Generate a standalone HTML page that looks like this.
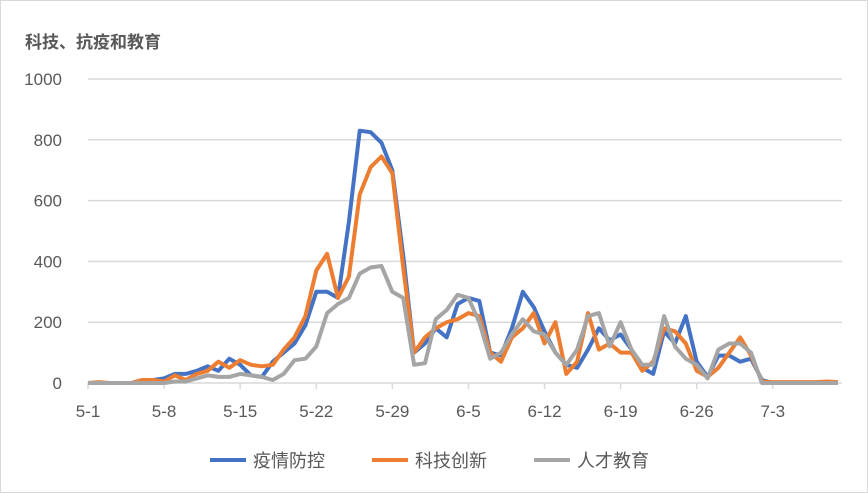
<!DOCTYPE html>
<html><head><meta charset="utf-8"><style>
body{margin:0;background:#fff;}
svg{display:block;font-family:"Liberation Sans","Noto Sans CJK SC",sans-serif;}
</style></head><body>
<svg id="chart" width="868" height="493">
<rect x="0.5" y="0.5" width="867" height="492" fill="#fff" stroke="#d9d9d9"/>
<text x="25" y="48" font-size="17" font-weight="bold" fill="#595959">科技、抗疫和教育</text>
<g id="grid"></g><g id="xt"></g><g id="series"></g>
<g>
<line x1="210" y1="460" x2="246" y2="460" stroke="#4472c4" stroke-width="4"/>
<text x="253" y="467" font-size="18" fill="#595959">疫情防控</text>
<line x1="372" y1="460" x2="408" y2="460" stroke="#ed7d31" stroke-width="4"/>
<text x="415" y="467" font-size="18" fill="#595959">科技创新</text>
<line x1="534" y1="460" x2="570" y2="460" stroke="#a5a5a5" stroke-width="4"/>
<text x="577" y="467" font-size="18" fill="#595959">人才教育</text>
</g>
</svg>
<script>
const yTicks=[0,200,400,600,800,1000];
const xLabels=["5-1","5-8","5-15","5-22","5-29","6-5","6-12","6-19","6-26","7-3"];
const epidemic=[0,0,0,0,0,10,10,15,30,30,40,55,40,80,60,25,20,70,100,130,190,300,300,280,530,830,825,790,700,420,100,130,180,150,260,280,270,100,90,180,300,250,170,100,60,50,110,180,140,160,110,50,30,170,130,220,70,20,90,90,70,80,10,0,0,0,0,0,0,0];
const tech=[0,3,0,0,0,10,10,5,25,10,30,40,70,50,75,60,55,60,110,150,220,370,425,280,350,620,710,745,690,380,100,150,180,200,210,230,220,100,70,150,180,230,130,200,30,70,230,110,130,100,100,40,70,180,170,130,40,20,50,100,150,90,5,3,3,3,3,3,5,3];
const edu=[0,0,0,0,0,0,0,0,5,5,15,25,20,20,30,25,20,10,30,75,80,120,230,260,280,360,380,385,300,280,60,65,210,240,290,280,200,80,100,160,210,170,160,100,60,110,220,230,120,200,110,60,60,220,120,80,60,15,110,130,130,100,0,0,0,0,0,0,0,0];
const NS="http://www.w3.org/2000/svg";
const x0=88,x1=838,y0=383,yTop=79;
const X=i=>x0+i*(x1-x0)/(epidemic.length-1);
const Y=v=>y0-(v/1000)*(y0-yTop);
const grid=document.getElementById('grid');
yTicks.forEach(t=>{
 const l=document.createElementNS(NS,'line');
 l.setAttribute('x1',x0);l.setAttribute('x2',x1+4);l.setAttribute('y1',Y(t));l.setAttribute('y2',Y(t));
 l.setAttribute('stroke','#d9d9d9');l.setAttribute('stroke-width','1.5');
 
 
 grid.appendChild(l);
 const tx=document.createElementNS(NS,'text');
 tx.setAttribute('x',62);tx.setAttribute('y',Y(t)+6);tx.setAttribute('text-anchor','end');
 tx.setAttribute('font-size','17');tx.setAttribute('fill','#595959');tx.textContent=t;
 
 
 grid.appendChild(tx);
});
const xt=document.getElementById('xt');
xLabels.forEach((lab,k)=>{
 const i=k*7;const x=X(i);
 const l=document.createElementNS(NS,'line');
 l.setAttribute('x1',x);l.setAttribute('x2',x);l.setAttribute('y1',y0);l.setAttribute('y2',y0+6);
 l.setAttribute('stroke','#d9d9d9');l.setAttribute('stroke-width','1.5');
 
 
 xt.appendChild(l);
 const tx=document.createElementNS(NS,'text');
 tx.setAttribute('x',x);tx.setAttribute('y',417);tx.setAttribute('text-anchor','middle');
 tx.setAttribute('font-size','17');tx.setAttribute('fill','#595959');tx.textContent=lab;
 
 
 xt.appendChild(tx);
});
const sg=document.getElementById('series');
[[epidemic,'#4472c4','series-epidemic'],[tech,'#ed7d31','series-tech'],[edu,'#a5a5a5','series-education']].forEach(([d,c,n])=>{
 const p=document.createElementNS(NS,'polyline');
 p.setAttribute('points',d.map((v,i)=>X(i).toFixed(1)+','+Y(v).toFixed(1)).join(' '));
 p.setAttribute('fill','none');p.setAttribute('stroke',c);p.setAttribute('stroke-width','4');
 p.setAttribute('stroke-linejoin','round');
 
 
 sg.appendChild(p);
});
</script>
</body></html>
